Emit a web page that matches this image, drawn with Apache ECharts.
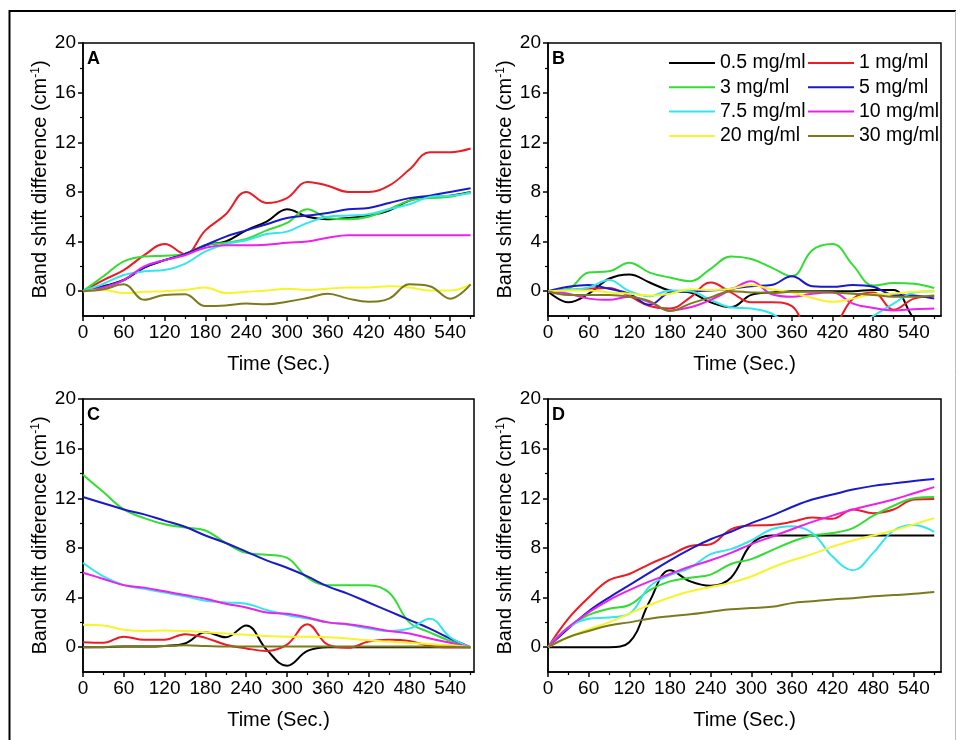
<!DOCTYPE html>
<html>
<head>
<meta charset="utf-8">
<script src="https://cdn.jsdelivr.net/npm/echarts@6/dist/echarts.min.js"></script>
<style>
  html, body { margin: 0; padding: 0; background: #ffffff; }
  #chart { width: 961px; height: 740px; }
</style>
</head>
<body>
<div id="chart"></div>
<script>
// Sampling times (s), shared by every curve
const times = [0, 30, 60, 90, 120, 150, 180, 210, 240, 270, 300, 330, 360, 390, 420, 450, 480, 510, 540, 570];

const seriesNames = ['0.5 mg/ml', '1 mg/ml', '3 mg/ml', '5 mg/ml', '7.5 mg/ml', '10 mg/ml', '20 mg/ml', '30 mg/ml'];
const panelLetters = ['A', 'B', 'C', 'D'];

const xTickValues = [0, 60, 120, 180, 240, 300, 360, 420, 480, 540];
const xMinorValues = [30, 90, 150, 210, 270, 330, 390, 450, 510, 570];
const yTickValues = [0, 4, 8, 12, 16, 20];
const yMinorValues = [2, 6, 10, 14, 18];

// Panel A
const a05 = [0, 0.4, 0.9, 1.9, 2.5, 3.0, 3.7, 4.0, 4.9, 5.6, 6.6, 6.0, 5.8, 5.9, 6.1, 6.5, 7.3, 7.6, 7.7, 8.0];
const a1  = [0, 0.9, 1.7, 2.9, 3.8, 3.0, 4.9, 6.2, 8.0, 7.1, 7.5, 8.8, 8.5, 8.0, 8.0, 8.5, 9.8, 11.2, 11.2, 11.5];
const a3  = [0, 1.2, 2.4, 2.8, 2.85, 3.0, 3.7, 3.9, 4.2, 4.9, 5.5, 6.6, 5.9, 5.8, 6.0, 6.6, 7.3, 7.5, 7.6, 8.0];
const a5  = [0, 0.35, 0.9, 1.9, 2.5, 3.0, 3.7, 4.4, 4.9, 5.4, 5.9, 6.1, 6.3, 6.6, 6.7, 7.1, 7.5, 7.7, 8.0, 8.3];
const a75 = [0, 0.6, 1.3, 1.6, 1.7, 2.2, 3.2, 3.8, 4.1, 4.6, 4.8, 5.5, 6.0, 6.1, 6.2, 6.6, 7.0, 7.6, 7.7, 7.9];
const a10 = [0, 0.3, 0.9, 2.0, 2.5, 2.9, 3.5, 3.7, 3.7, 3.75, 3.9, 4.0, 4.3, 4.5, 4.5, 4.5, 4.5, 4.5, 4.5, 4.5];
const a20 = [0, 0.1, -0.15, -0.05, 0.0, 0.1, 0.3, -0.15, -0.05, 0.05, 0.2, 0.1, 0.2, 0.3, 0.3, 0.4, 0.3, 0.05, 0.05, 0.55];
const a30 = [0, 0.15, 0.55, -0.7, -0.3, -0.25, -1.2, -1.15, -1.0, -1.05, -0.85, -0.55, -0.2, -0.6, -0.85, -0.6, 0.55, 0.4, -0.6, 0.55];

// Panel B
const b05 = [0, -0.9, -0.2, 1.0, 1.35, 0.7, 0.05, -0.1, -0.9, -1.3, -0.3, -0.1, 0, 0, 0, 0, 0.1, 0.1, -2.2, -3.5];
const b1  = [0, 0.1, 0.2, 0.25, -0.4, -1.2, -1.4, -0.5, 0.7, -0.1, -0.9, -0.9, -1.2, -3.5, -3.0, -0.6, -0.1, -1.5, -0.6, -0.4];
const b3  = [0, 0.2, 1.5, 1.6, 2.3, 1.5, 1.1, 0.8, 1.8, 2.8, 2.6, 1.9, 1.2, 3.3, 3.8, 2.1, 0.45, 0.65, 0.6, 0.25];
const b5  = [0, 0.35, 0.5, 0.2, -0.2, -1.1, -0.1, 0, 0.05, 0.2, 0.4, 0.5, 1.2, 0.4, 0.35, 0.5, 0.35, -0.3, -0.35, -0.6];
const b75 = [0, 0.1, 0.3, 0.9, 0.0, -0.4, 0.05, 0.0, -0.7, -1.3, -1.4, -1.8, -3.0, -4.0, -4.0, -3.0, -2.0, -1.0, -0.1, 0.0];
const b10 = [0, -0.2, -0.6, -0.7, -0.45, -0.9, -1.55, -1.3, -0.7, 0.1, 0.8, -0.25, -0.45, -0.2, -0.1, -1.0, -1.35, -1.55, -1.45, -1.4];
const b20 = [0, 0.05, 0.05, -0.1, -0.2, -0.35, -0.2, 0.15, 0.1, 0.2, 0.5, 0.15, -0.1, -0.55, -0.85, -0.6, -0.25, -0.2, -0.05, 0.0];
const b30 = [0, -0.3, -0.3, -0.3, -0.45, -0.8, -1.6, -1.0, -0.5, 0.0, -0.1, -0.15, -0.05, -0.05, -0.1, -0.2, -0.3, -0.45, -0.45, -0.35];

// Panel C
const c05 = [0, 0, 0.05, 0.05, 0.1, 0.3, 1.2, 0.8, 1.75, -0.2, -1.5, -0.3, 0, 0, 0, 0, 0, 0, 0, 0];
const c1  = [0.4, 0.35, 0.85, 0.6, 0.6, 1.05, 0.75, 0.2, -0.1, -0.3, 0.2, 1.85, 0.2, -0.05, 0.45, 0.6, 0.5, 0.1, 0.0, 0.0];
const c3  = [13.9, 12.5, 11.1, 10.4, 9.9, 9.65, 9.4, 8.4, 7.6, 7.45, 7.2, 5.6, 5.0, 5.0, 5.0, 4.4, 2.0, 1.2, 0.5, 0.0];
const c5  = [12.1, 11.6, 11.1, 10.7, 10.2, 9.7, 9.0, 8.4, 7.7, 7.0, 6.4, 5.7, 4.9, 4.3, 3.6, 2.9, 2.2, 1.5, 0.7, 0.0];
const c75 = [6.8, 5.7, 5.0, 4.7, 4.4, 4.1, 3.75, 3.6, 3.5, 3.0, 2.6, 2.3, 2.0, 1.8, 1.5, 1.3, 1.5, 2.3, 0.8, 0.0];
const c10 = [6.0, 5.5, 5.0, 4.8, 4.5, 4.2, 3.9, 3.5, 3.2, 2.8, 2.7, 2.4, 2.0, 1.85, 1.6, 1.3, 1.1, 0.7, 0.35, 0.0];
const c20 = [1.8, 1.75, 1.4, 1.3, 1.35, 1.3, 1.2, 1.1, 1.0, 0.9, 0.85, 0.85, 0.8, 0.7, 0.55, 0.45, 0.35, 0.25, 0.15, 0.0];
const c30 = [0.0, 0.02, 0.05, 0.05, 0.1, 0.15, 0.1, 0.05, 0.05, 0.05, 0.05, 0.05, 0.05, 0.05, 0.05, 0.05, 0.05, 0.05, 0.03, 0.0];

// Panel D
const d05 = [0, 0, 0, 0, 0.4, 3.7, 6.2, 5.3, 4.95, 5.6, 8.3, 9.0, 9.0, 9.0, 9.0, 9.0, 9.0, 9.0, 9.0, 9.0];
const d1  = [0, 2.3, 4.0, 5.4, 5.9, 6.7, 7.4, 8.15, 8.3, 9.5, 9.8, 9.85, 10.1, 10.45, 10.35, 11.1, 10.8, 11.1, 11.9, 11.95];
const d3  = [0, 1.6, 2.6, 3.1, 3.4, 4.6, 5.3, 5.6, 5.85, 6.7, 7.1, 7.8, 8.5, 9.0, 9.2, 9.6, 10.6, 11.4, 12.0, 12.1];
const d5  = [0, 1.5, 2.9, 4.0, 5.0, 6.0, 7.0, 7.9, 8.7, 9.3, 10.0, 10.6, 11.3, 11.9, 12.3, 12.7, 13.0, 13.2, 13.4, 13.55];
const d75 = [0, 1.6, 2.3, 2.4, 2.7, 4.9, 5.8, 6.4, 7.5, 7.9, 8.6, 9.5, 9.75, 9.2, 7.3, 6.2, 7.6, 9.4, 9.85, 9.3];
const d10 = [0, 1.6, 2.8, 3.8, 4.6, 5.3, 5.9, 6.5, 7.0, 7.6, 8.3, 8.9, 9.5, 10.1, 10.6, 11.1, 11.5, 11.9, 12.4, 12.9];
const d20 = [0, 0.8, 1.45, 2.0, 2.7, 3.4, 4.0, 4.5, 4.85, 5.2, 5.7, 6.4, 7.0, 7.5, 8.1, 8.6, 9.0, 9.4, 9.9, 10.4];
const d30 = [0, 0.8, 1.3, 1.75, 2.0, 2.3, 2.5, 2.65, 2.85, 3.05, 3.15, 3.25, 3.55, 3.7, 3.85, 3.95, 4.1, 4.2, 4.3, 4.45];

const panelData = [
  [a05, a1, a3, a5, a75, a10, a20, a30],
  [b05, b1, b3, b5, b75, b10, b20, b30],
  [c05, c1, c3, c5, c75, c10, c20, c30],
  [d05, d1, d3, d5, d75, d10, d20, d30]
];

const FONT = '"Liberation Sans", Arial, sans-serif';
const colors = ['#000000', '#ec1c24', '#33dd33', '#1a1acc', '#33e6ee', '#ec22ec', '#f6f42a', '#7c7a1c'];

// plot rectangles: [left, top, width, height, xMax]
const boxes = [
  [83, 43, 391, 273, 575],
  [548, 43, 393, 273, 580],
  [83, 399, 391, 273, 575],
  [548, 399, 393, 273, 580]
];

const grids = [], xAxes = [], yAxes = [], series = [], graphics = [];

boxes.forEach((b, g) => {
  grids.push({
    left: b[0], top: b[1], width: b[2], height: b[3],
    show: true, borderColor: '#000', borderWidth: 1.5, backgroundColor: 'transparent'
  });
  // major x axis
  xAxes.push({
    gridIndex: g, type: 'value', min: 0, max: b[4], position: 'bottom',
    axisLine: { show: true, onZero: false, lineStyle: { color: '#000', width: 1.5 } },
    axisTick: { show: true, inside: false, length: 5, customValues: xTickValues, lineStyle: { color: '#000', width: 1.5 } },
    axisLabel: { show: true, customValues: xTickValues, color: '#000', fontSize: 19, fontFamily: FONT, margin: 7 },
    splitLine: { show: false },
    name: 'Time (Sec.)', nameLocation: 'middle', nameGap: 38,
    nameTextStyle: { color: '#000', fontSize: 20, fontFamily: FONT }
  });
  // minor x ticks
  xAxes.push({
    gridIndex: g, type: 'value', min: 0, max: b[4], position: 'bottom',
    axisLine: { show: false, onZero: false },
    axisTick: { show: true, inside: false, length: 3, customValues: xMinorValues, lineStyle: { color: '#000', width: 1.2 } },
    axisLabel: { show: false },
    splitLine: { show: false }
  });
  // major y axis
  yAxes.push({
    gridIndex: g, type: 'value', min: -2, max: 20, position: 'left',
    axisLine: { show: true, onZero: false, lineStyle: { color: '#000', width: 1.5 } },
    axisTick: { show: true, inside: false, length: 5, customValues: yTickValues, lineStyle: { color: '#000', width: 1.5 } },
    axisLabel: { show: true, customValues: yTickValues, color: '#000', fontSize: 19, fontFamily: FONT, margin: 7 },
    splitLine: { show: false },
    name: '{a|Band shift difference (cm}{s|-1}{a|)}',
    nameLocation: 'middle', nameGap: 31,
    nameTextStyle: {
      color: '#000', fontFamily: FONT,
      rich: {
        a: { fontSize: 20, fontFamily: FONT, color: '#000', lineHeight: 22 },
        s: { fontSize: 12, fontFamily: FONT, color: '#000', verticalAlign: 'top', lineHeight: 12 }
      }
    }
  });
  // minor y ticks
  yAxes.push({
    gridIndex: g, type: 'value', min: -2, max: 20, position: 'left',
    axisLine: { show: false, onZero: false },
    axisTick: { show: true, inside: false, length: 3, customValues: yMinorValues, lineStyle: { color: '#000', width: 1.2 } },
    axisLabel: { show: false },
    splitLine: { show: false }
  });

  panelData[g].forEach((vals, k) => {
    series.push({
      type: 'line', name: seriesNames[k],
      xAxisIndex: 2 * g, yAxisIndex: 2 * g,
      data: times.map((t, i) => [t, vals[i]]),
      smooth: 0.4, symbol: 'none', showSymbol: false, clip: true,
      lineStyle: { color: colors[k], width: 2 },
      itemStyle: { color: colors[k] },
      emphasis: { disabled: true },
      silent: true, animation: false
    });
  });

  graphics.push({
    type: 'text', left: b[0] + 4, top: b[1] + 7,
    style: { text: panelLetters[g], font: 'bold 18px ' + FONT, fill: '#000' }
  });
});

// figure frame
graphics.push({ type: 'line', shape: { x1: 9, y1: 11, x2: 956, y2: 11 }, style: { stroke: '#000', lineWidth: 2 } });
graphics.push({ type: 'line', shape: { x1: 9.5, y1: 10, x2: 9.5, y2: 740 }, style: { stroke: '#000', lineWidth: 2 } });
graphics.push({ type: 'line', shape: { x1: 955.5, y1: 11, x2: 955.5, y2: 740 }, style: { stroke: '#bbbbbb', lineWidth: 1 } });

// legend keys are plain line strokes
const legendCommon = {
  orient: 'vertical', icon: 'rect', itemWidth: 46, itemHeight: 2, itemGap: 4.3,
  selectedMode: false, top: 48,
  textStyle: { color: '#000', fontSize: 19.5, fontFamily: FONT, lineHeight: 20 }
};

const option = {
  animation: false,
  backgroundColor: '#ffffff',
  grid: grids,
  xAxis: xAxes,
  yAxis: yAxes,
  legend: [
    Object.assign({}, legendCommon, { left: 664, data: ['0.5 mg/ml', '3 mg/ml', '7.5 mg/ml', '20 mg/ml'] }),
    Object.assign({}, legendCommon, { left: 803, data: ['1 mg/ml', '5 mg/ml', '10 mg/ml', '30 mg/ml'] })
  ],
  graphic: graphics,
  series: series
};

const chart = echarts.init(document.getElementById('chart'), null, { renderer: 'canvas' });
chart.setOption(option);
</script>
</body>
</html>
